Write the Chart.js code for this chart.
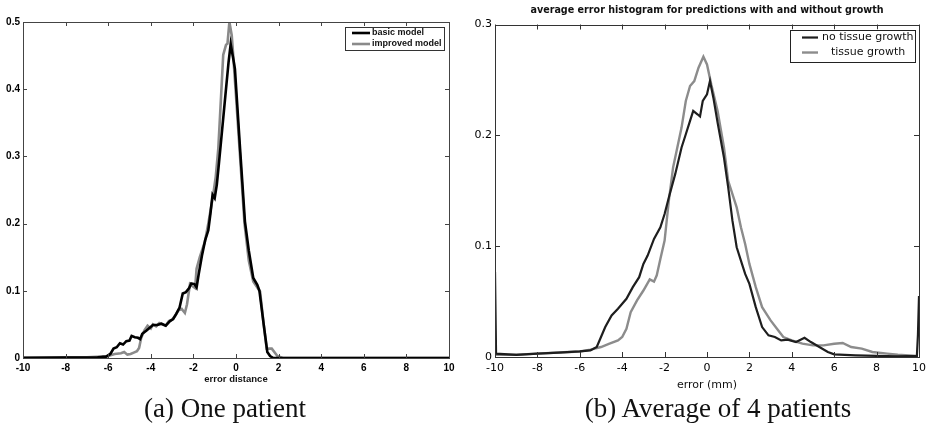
<!DOCTYPE html>
<html>
<head>
<meta charset="utf-8">
<script src="https://cdn.jsdelivr.net/npm/chart.js@4.4.1/dist/chart.umd.min.js"></script>
<style>
  body { margin: 0; background: #fff; width: 933px; height: 424px; position: relative; overflow: hidden; }
  #leftBox { position: absolute; left: 0; top: 0; }
  #rightBox { position: absolute; left: 460px; top: 0; }
  .caption {
    position: absolute; top: 393px; font-family: "Liberation Serif", "DejaVu Serif", serif;
    font-size: 27px; color: #111; white-space: nowrap; transform: translateX(-50%);
  }
</style>
</head>
<body>
<div id="leftBox"><canvas id="chartA" width="460" height="395"></canvas></div>
<div id="rightBox"><canvas id="chartB" width="473" height="395"></canvas></div>
<div class="caption" style="left:225px">(a) One patient</div>
<div class="caption" style="left:718px">(b) Average of 4 patients</div>

<script>
// (a) one patient
const basicX = [-10, -8, -6.5, -6.1, -5.9, -5.75, -5.6, -5.45, -5.3, -5.15, -5.0, -4.9, -4.75, -4.6, -4.5, -4.4, -4.2, -4.05, -3.9, -3.7, -3.5, -3.3, -3.1, -2.95, -2.8, -2.65, -2.5, -2.35, -2.2, -2.1, -1.95, -1.85, -1.75, -1.6, -1.45, -1.3, -1.2, -1.1, -1.0, -0.9, -0.8, -0.65, -0.5, -0.35, -0.25, -0.1, -0.05, 0.19, 0.42, 0.6, 0.81, 1.0, 1.1, 1.3, 1.47, 1.6, 1.75, 10];
const basicY = [0, 0.0005, 0.001, 0.002, 0.006, 0.014, 0.016, 0.022, 0.02, 0.025, 0.026, 0.033, 0.031, 0.03, 0.028, 0.036, 0.041, 0.045, 0.049, 0.049, 0.051, 0.048, 0.055, 0.058, 0.066, 0.075, 0.096, 0.098, 0.104, 0.111, 0.11, 0.105, 0.125, 0.152, 0.175, 0.19, 0.215, 0.243, 0.238, 0.258, 0.29, 0.34, 0.39, 0.44, 0.467, 0.44, 0.43, 0.312, 0.203, 0.16, 0.119, 0.109, 0.1, 0.05, 0.009, 0.003, 0, 0];

const improvedX = [-10, -8, -7, -6.3, -6.0, -5.7, -5.4, -5.25, -5.1, -4.95, -4.8, -4.65, -4.55, -4.45, -4.3, -4.15, -4.0, -3.9, -3.75, -3.6, -3.45, -3.3, -3.15, -3.0, -2.85, -2.7, -2.55, -2.4, -2.3, -2.16, -2.05, -1.92, -1.85, -1.7, -1.46, -1.3, -1.07, -0.95, -0.83, -0.7, -0.6, -0.47, -0.4, -0.31, -0.2, -0.13, 0.0, 0.19, 0.4, 0.6, 0.81, 1.0, 1.13, 1.3, 1.44, 1.68, 1.8, 1.94, 2.2, 10];
const improvedY = [0.001, 0.001, 0.001, 0.002, 0.003, 0.006, 0.007, 0.009, 0.005, 0.006, 0.008, 0.01, 0.015, 0.03, 0.041, 0.048, 0.044, 0.05, 0.047, 0.052, 0.05, 0.048, 0.055, 0.057, 0.063, 0.071, 0.073, 0.067, 0.08, 0.11, 0.107, 0.104, 0.133, 0.15, 0.173, 0.2, 0.243, 0.27, 0.312, 0.39, 0.451, 0.466, 0.468, 0.5, 0.48, 0.45, 0.39, 0.3, 0.2, 0.145, 0.114, 0.105, 0.099, 0.05, 0.014, 0.014, 0.009, 0.003, 0, 0];

// (b) average of 4 patients
const noGrowthX = [-10, -9.95, -9, -8, -7, -6, -5.5, -5.2, -5.0, -4.8, -4.5, -4.2, -4.0, -3.8, -3.5, -3.2, -3.0, -2.8, -2.5, -2.2, -2.0, -1.8, -1.5, -1.2, -1.0, -0.8, -0.65, -0.45, -0.33, -0.2, 0, 0.14, 0.3, 0.5, 0.8, 1.0, 1.2, 1.4, 1.6, 1.8, 2.0, 2.3, 2.6, 2.9, 3.2, 3.5, 3.8, 4.2, 4.6, 4.9, 5.3, 5.7, 6.0, 7, 8, 9, 9.9, 9.95, 10];
const noGrowthY = [0.077, 0.003, 0.002, 0.003, 0.004, 0.005, 0.006, 0.009, 0.018, 0.027, 0.0375, 0.0435, 0.048, 0.0525, 0.063, 0.072, 0.084, 0.0915, 0.1065, 0.117, 0.129, 0.144, 0.165, 0.189, 0.201, 0.213, 0.222, 0.219, 0.217, 0.231, 0.237, 0.249, 0.234, 0.2115, 0.18, 0.153, 0.123, 0.099, 0.087, 0.075, 0.066, 0.045, 0.027, 0.0195, 0.018, 0.015, 0.0156, 0.0135, 0.0174, 0.0135, 0.009, 0.0045, 0.0024, 0.0015, 0.001, 0.0006, 0.001, 0.02, 0.055];

const growthX = [-10, -9, -8, -7, -6, -5.5, -5.0, -4.6, -4.2, -4.0, -3.8, -3.6, -3.3, -3.0, -2.7, -2.5, -2.37, -2.2, -2.0, -1.8, -1.6, -1.4, -1.2, -1.0, -0.8, -0.6, -0.4, -0.17, 0, 0.2, 0.5, 0.8, 1.0, 1.2, 1.4, 1.6, 1.8, 2.0, 2.3, 2.6, 3.0, 3.3, 3.6, 4.0, 4.5, 5.0, 5.5, 6.0, 6.4, 6.8, 7.3, 7.8, 8.5, 9, 9.9];
const growthY = [0.002, 0.002, 0.003, 0.004, 0.005, 0.0066, 0.009, 0.012, 0.015, 0.018, 0.0255, 0.0405, 0.051, 0.06, 0.07, 0.068, 0.0737, 0.0885, 0.105, 0.141, 0.171, 0.189, 0.207, 0.231, 0.2445, 0.249, 0.261, 0.271, 0.264, 0.246, 0.222, 0.189, 0.159, 0.147, 0.135, 0.117, 0.102, 0.084, 0.063, 0.045, 0.033, 0.0255, 0.018, 0.015, 0.012, 0.0105, 0.0105, 0.012, 0.0126, 0.009, 0.0075, 0.0045, 0.003, 0.002, 0.001];

const xTicks = [-10, -8, -6, -4, -2, 0, 2, 4, 6, 8, 10];

const pts = (xs, ys) => xs.map((x, i) => ({ x, y: ys[i] }));

// matlab style box with inward ticks on all four sides
const boxTicks = {
  id: "boxTicks",
  afterDatasetsDraw(chart, args, o) {
    const { ctx, chartArea: a, scales: { x, y } } = chart;
    ctx.save();
    ctx.strokeStyle = o.color;
    ctx.lineWidth = 1;
    ctx.beginPath();
    x.ticks.forEach(t => {
      const px = Math.round(x.getPixelForValue(t.value)) + 0.5;
      ctx.moveTo(px, a.bottom); ctx.lineTo(px, a.bottom - o.len);
      ctx.moveTo(px, a.top); ctx.lineTo(px, a.top + o.len);
    });
    y.ticks.forEach(t => {
      const py = Math.round(y.getPixelForValue(t.value)) + 0.5;
      ctx.moveTo(a.left, py); ctx.lineTo(a.left + o.len, py);
      ctx.moveTo(a.right, py); ctx.lineTo(a.right - o.len, py);
    });
    ctx.stroke();
    ctx.strokeRect(Math.round(a.left) + 0.5, Math.round(a.top) + 0.5, Math.round(a.width), Math.round(a.height));
    ctx.restore();
  }
};

const boxLegend = {
  id: "boxLegend",
  afterDraw(chart, args, o) {
    const { ctx, chartArea: a } = chart;
    const bx = a.right - o.right - o.w, by = a.top + o.top;
    ctx.save();
    ctx.fillStyle = "#fff";
    ctx.fillRect(bx, by, o.w, o.h);
    ctx.strokeStyle = o.border;
    ctx.lineWidth = 1;
    ctx.strokeRect(Math.round(bx) + 0.5, Math.round(by) + 0.5, o.w, o.h);
    ctx.font = o.font;
    ctx.textBaseline = "middle";
    chart.data.datasets.forEach((ds, i) => {
      const yy = by + o.first + i * o.row;
      ctx.strokeStyle = ds.borderColor;
      ctx.lineWidth = ds.borderWidth;
      ctx.beginPath();
      ctx.moveTo(bx + o.line0, yy);
      ctx.lineTo(bx + o.line1, yy);
      ctx.stroke();
      ctx.fillStyle = "#111";
      ctx.fillText(ds.label, bx + o.text + (o.indent[i] || 0), yy);
    });
    ctx.restore();
  }
};

function makeChart(id, cfg) {
  return new Chart(document.getElementById(id), {
    type: "line",
    data: { datasets: cfg.datasets },
    options: {
      responsive: false,
      animation: false,
      events: [],
      layout: { padding: cfg.padding },
      elements: { point: { radius: 0 }, line: { tension: 0 } },
      plugins: {
        legend: { display: false },
        tooltip: { enabled: false },
        title: cfg.title,
        boxTicks: { color: cfg.frame, len: cfg.tickLen },
        boxLegend: cfg.legend
      },
      scales: {
        x: {
          type: "linear", min: -10, max: 10,
          afterBuildTicks: s => { s.ticks = xTicks.map(v => ({ value: v })); },
          afterFit: s => { s.height = cfg.xHeight; },
          grid: { display: false, drawTicks: false },
          border: { display: false },
          ticks: { font: cfg.tickFont, color: "#000", padding: cfg.xPad, maxRotation: 0 },
          title: { display: true, text: cfg.xTitle, font: cfg.xTitleFont, color: "#111", padding: { top: 0, bottom: cfg.xTitlePad } }
        },
        y: {
          min: 0, max: cfg.yMax,
          ticks: { stepSize: 0.1, font: cfg.tickFont, color: "#000", padding: 3 },
          afterFit: s => { s.width = cfg.yWidth; },
          grid: { display: false, drawTicks: false },
          border: { display: false }
        }
      }
    },
    plugins: [boxTicks, boxLegend]
  });
}

makeChart("chartA", {
  datasets: [
    { label: "basic model", data: pts(basicX, basicY), borderColor: "#000000", borderWidth: 2.6 },
    { label: "improved model", data: pts(improvedX, improvedY), borderColor: "#8a8a8a", borderWidth: 2.6 }
  ],
  padding: { top: 22, right: 11, left: 0, bottom: 0 },
  title: { display: false },
  frame: "#444",
  tickLen: 4,
  yMax: 0.5,
  yWidth: 23,
  xHeight: 37,
  xPad: 4,
  tickFont: { family: "Liberation Sans, Arial", size: 10, weight: "bold" },
  xTitle: "error distance",
  xTitleFont: { family: "Liberation Sans, Arial", size: 9.5, weight: "bold" },
  xTitlePad: 10,
  legend: { right: 5, top: 5, w: 99, h: 23, first: 6, row: 11, line0: 7, line1: 25, text: 27, indent: [], border: "#333",
            font: "bold 9px 'Liberation Sans', Arial" }
});

makeChart("chartB", {
  datasets: [
    { label: "no tissue growth", data: pts(noGrowthX, noGrowthY), borderColor: "#1e1e1e", borderWidth: 2.2 },
    { label: "tissue growth", data: pts(growthX, growthY), borderColor: "#8c8c8c", borderWidth: 2.4 }
  ],
  padding: { top: 0, right: 14, left: 0, bottom: 0 },
  title: { display: true, text: "average error histogram for predictions with and without growth",
           font: { family: "DejaVu Sans", size: 9.6 }, color: "#111", padding: { top: 5, bottom: 8 }, fullSize: false },
  frame: "#333",
  tickLen: 5,
  yMax: 0.3,
  yWidth: 35,
  xHeight: 38,
  xPad: 5,
  tickFont: { family: "DejaVu Sans", size: 11 },
  xTitle: "error (mm)",
  xTitleFont: { family: "DejaVu Sans", size: 11 },
  xTitlePad: 3,
  legend: { right: 4, top: 5, w: 125, h: 32, first: 8, row: 15, line0: 12, line1: 28, text: 32, indent: [0, 9], border: "#222",
            font: "11px 'DejaVu Sans'" }
});
</script>
</body>
</html>
